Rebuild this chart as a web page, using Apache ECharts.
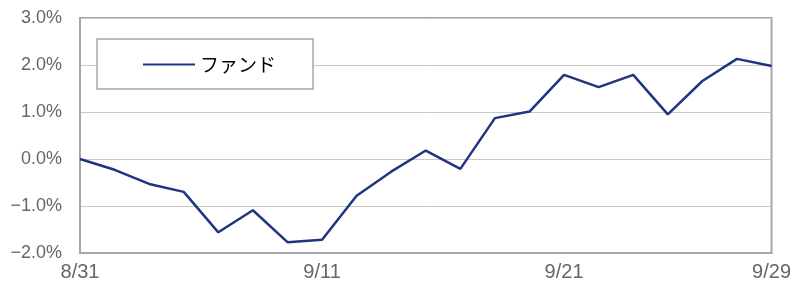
<!DOCTYPE html>
<html>
<head>
<meta charset="utf-8">
<script src="https://cdn.jsdelivr.net/npm/echarts@6/dist/echarts.min.js"></script>
<style>
html,body{margin:0;padding:0;background:#fff;}
#chart{width:794px;height:290px;}
</style>
</head>
<body>
<div id="chart"></div>
<script>
const categories = ['8/31','9/1','9/2','9/3','9/4','9/7','9/8','9/11','9/12','9/13','9/14','9/15','9/16','9/18','9/21','9/22','9/24','9/25','9/27','9/28','9/29'];
const labelIndexes = [0, 7, 14, 20];
const seriesName = 'ファンド';
const fundValues = [0.00, -0.23, -0.53, -0.70, -1.56, -1.09, -1.77, -1.72, -0.78, -0.27, 0.18, -0.21, 0.87, 1.01, 1.79, 1.53, 1.79, 0.95, 1.66, 2.13, 1.98];
const yTicks = [-2, -1, 0, 1, 2, 3];

const chart = echarts.init(document.getElementById('chart'), null, {renderer: 'canvas'});
chart.setOption({
  animation: false,
  backgroundColor: '#fff',
  grid: {left: 80, right: 22, top: 18, bottom: 37, show: true, borderColor: '#a6a6a6', borderWidth: 2, backgroundColor: 'transparent'},
  legend: {
    data: [seriesName],
    left: 97, top: 39,
    orient: 'horizontal',
    icon: 'rect',
    itemWidth: 52, itemHeight: 2,
    padding: [16, 37, 15, 46],
    backgroundColor: '#fff',
    borderColor: '#a6a6a6', borderWidth: 1.5,
    textStyle: {color: '#000', fontSize: 19, fontFamily: 'Noto Sans CJK JP'}
  },
  xAxis: {
    type: 'category',
    data: categories,
    boundaryGap: false,
    axisLine: {show: true, onZero: false, lineStyle: {color: '#a6a6a6', width: 2}},
    axisTick: {show: false},
    axisLabel: {
      interval: function (i) { return labelIndexes.indexOf(i) >= 0; },
      color: '#666', fontSize: 20, fontFamily: 'Liberation Sans', margin: 9
    },
    splitLine: {show: false}
  },
  yAxis: {
    type: 'value',
    min: yTicks[0], max: yTicks[yTicks.length - 1], interval: 1,
    axisLine: {show: true, lineStyle: {color: '#a6a6a6', width: 2}},
    axisTick: {show: false},
    axisLabel: {
      color: '#666', fontSize: 18, fontFamily: 'Liberation Sans', margin: 18,
      formatter: function (v) { return (v < 0 ? '\u2212' : '') + Math.abs(v).toFixed(1) + '%'; }
    },
    splitLine: {show: true, lineStyle: {color: '#c8c8c8', width: 1}}
  },
  series: [{
    name: seriesName,
    type: 'line',
    data: fundValues,
    symbol: 'none',
    lineStyle: {color: '#1f3580', width: 2.5},
    itemStyle: {color: '#1f3580'}
  }]
});
</script>
</body>
</html>
